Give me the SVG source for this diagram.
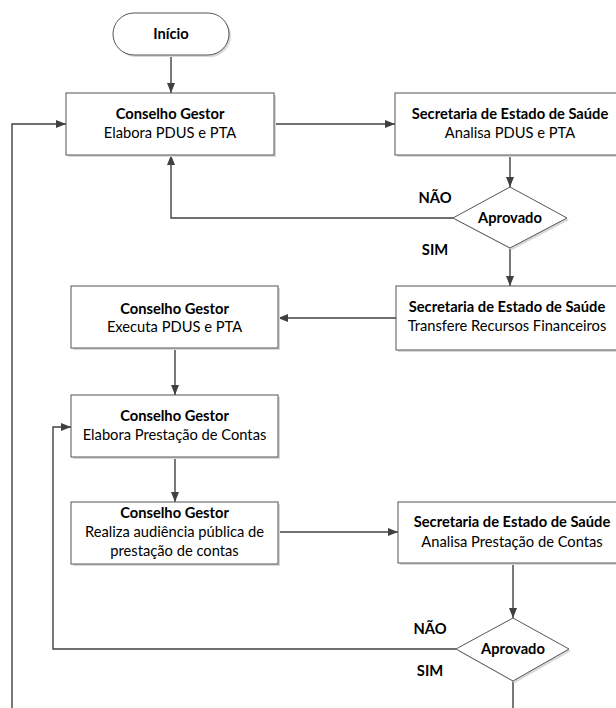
<svg xmlns="http://www.w3.org/2000/svg" width="616" height="708" viewBox="0 0 616 708">
<defs>
<marker id="ah" markerWidth="10" markerHeight="8" refX="10" refY="4" orient="auto" markerUnits="userSpaceOnUse">
<path d="M0,0 L10,4 L0,8 Z" fill="#404040"/>
</marker>
<style>
.box{fill:#fff;stroke:#555;stroke-width:1}
.sh{fill:#d8d8d8}
.t{font-family:Lato,"Liberation Sans",sans-serif;font-size:14.7px;fill:#000;text-anchor:middle}
.b{font-weight:bold}
.c{fill:none;stroke:#404040;stroke-width:1.4}
</style>
</defs>
<rect width="616" height="708" fill="#fff"/>
<g id="connectors">
<path class="c" d="M171,55 V93" marker-end="url(#ah)"/>
<path class="c" d="M274,124 H395" marker-end="url(#ah)"/>
<path class="c" d="M510,155 V187" marker-end="url(#ah)"/>
<path class="c" d="M453,218 H171 V155" marker-end="url(#ah)"/>
<path class="c" d="M510,248 V286" marker-end="url(#ah)"/>
<path class="c" d="M396,318 H278" marker-end="url(#ah)"/>
<path class="c" d="M175,348 V395" marker-end="url(#ah)"/>
<path class="c" d="M175,457 V502" marker-end="url(#ah)"/>
<path class="c" d="M278,532 H398" marker-end="url(#ah)"/>
<path class="c" d="M513,563 V618" marker-end="url(#ah)"/>
<path class="c" d="M456,649 H53 V427 H71" marker-end="url(#ah)"/>
<path class="c" d="M513,681 V720 H12 V124 H66" marker-end="url(#ah)"/>
<text class="t b" x="435" y="203">NÃO</text>
<text class="t b" x="435" y="255">SIM</text>
<text class="t b" x="430" y="634">NÃO</text>
<text class="t b" x="430" y="676">SIM</text>
</g>
<g id="inicio">
<rect x="115" y="15" width="116" height="42" rx="21" class="sh"/>
<rect x="113" y="13" width="116" height="42" rx="21" class="box"/>
<text class="t b" x="171" y="39">Início</text>
</g>
<g id="cg-elabora">
<rect x="68" y="95" width="208" height="62" class="sh"/>
<rect x="66" y="93" width="208" height="62" class="box"/>
<text class="t b" x="170" y="119">Conselho Gestor</text>
<text class="t" x="170" y="138">Elabora PDUS e PTA</text>
</g>
<g id="ses-analisa">
<rect x="397" y="95" width="230" height="62" class="sh"/>
<rect x="395" y="93" width="230" height="62" class="box"/>
<text class="t b" x="510" y="119">Secretaria de Estado de Saúde</text>
<text class="t" x="510" y="138">Analisa PDUS e PTA</text>
</g>
<g id="aprovado1">
<polygon points="512,189 569,220 512,250 455,220" class="sh"/>
<polygon points="510,187 567,218 510,248 453,218" class="box"/>
<text class="t b" x="510" y="223">Aprovado</text>
</g>
<g id="ses-transfere">
<rect x="398" y="288" width="230" height="64" class="sh"/>
<rect x="396" y="286" width="230" height="64" class="box"/>
<text class="t b" x="507" y="312">Secretaria de Estado de Saúde</text>
<text class="t" x="507" y="331">Transfere Recursos Financeiros</text>
</g>
<g id="cg-executa">
<rect x="73" y="288" width="207" height="62" class="sh"/>
<rect x="71" y="286" width="207" height="62" class="box"/>
<text class="t b" x="174.5" y="314">Conselho Gestor</text>
<text class="t" x="174.5" y="332">Executa PDUS e PTA</text>
</g>
<g id="cg-prestacao">
<rect x="73" y="397" width="207" height="62" class="sh"/>
<rect x="71" y="395" width="207" height="62" class="box"/>
<text class="t b" x="174.5" y="421">Conselho Gestor</text>
<text class="t" x="174.5" y="440">Elabora Prestação de Contas</text>
</g>
<g id="cg-audiencia">
<rect x="73" y="504" width="207" height="62" class="sh"/>
<rect x="71" y="502" width="207" height="62" class="box"/>
<text class="t b" x="174.5" y="518">Conselho Gestor</text>
<text class="t" x="174.5" y="537">Realiza audiência pública de</text>
<text class="t" x="174.5" y="556">prestação de contas</text>
</g>
<g id="ses-analisa-contas">
<rect x="400" y="504" width="230" height="61" class="sh"/>
<rect x="398" y="502" width="230" height="61" class="box"/>
<text class="t b" x="512" y="527">Secretaria de Estado de Saúde</text>
<text class="t" x="512" y="547">Analisa Prestação de Contas</text>
</g>
<g id="aprovado2">
<polygon points="515,620 571,651 515,683 458,651" class="sh"/>
<polygon points="513,618 569,649 513,681 456,649" class="box"/>
<text class="t b" x="513" y="654">Aprovado</text>
</g>
</svg>
